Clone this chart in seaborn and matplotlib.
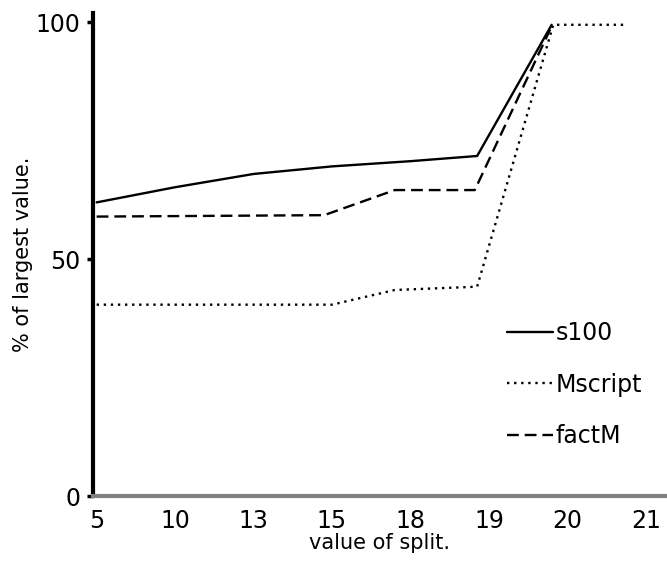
import matplotlib
matplotlib.use("Agg")
import matplotlib.pyplot as plt
import seaborn as sns
import pandas as pd

# tick categories (evenly spaced split values)
split_labels = ["5", "10", "13", "15", "18", "19", "20", "21"]

# series sampled along the split axis (x in tick-index units)
s100_x = [0.0, 1.0, 2.0, 3.0, 4.0, 4.85, 5.8]
s100_y = [62.0, 65.2, 68.0, 69.6, 70.7, 71.8, 99.5]

mscript_x = [0.0, 3.0, 3.8, 4.85, 5.82, 6.77]
mscript_y = [40.4, 40.4, 43.5, 44.2, 99.5, 99.5]

factm_x = [0.0, 2.9, 3.8, 4.82, 5.78]
factm_y = [59.0, 59.3, 64.6, 64.6, 98.5]

series_names = ["s100", "Mscript", "factM"]

df = pd.concat([
    pd.DataFrame({"x": s100_x, "y": s100_y, "series": series_names[0]}),
    pd.DataFrame({"x": mscript_x, "y": mscript_y, "series": series_names[1]}),
    pd.DataFrame({"x": factm_x, "y": factm_y, "series": series_names[2]}),
], ignore_index=True)

sns.set_style("white")
plt.rcParams["font.family"] = ["DejaVu Sans"]
plt.rcParams["text.color"] = "black"
plt.rcParams["axes.labelcolor"] = "black"
plt.rcParams["xtick.color"] = "black"
plt.rcParams["ytick.color"] = "black"

fig = plt.figure(figsize=(6.67, 5.63), dpi=100)
ax = fig.add_axes([0.139, 0.119, 0.861, 0.858])

dash_map = {"s100": "", "Mscript": (1.0, 2.0), "factM": (5.0, 2.5)}
sns.lineplot(data=df, x="x", y="y", hue="series", style="series",
             dashes=dash_map, palette=["black"] * 3, estimator=None,
             sort=False, linewidth=1.7, ax=ax, legend=True)

ax.set_xlim(-0.05, 7.27)
ax.set_ylim(0, 102)
ax.set_xticks(range(len(split_labels)))
ax.set_xticklabels(split_labels)
ax.set_yticks([0, 50, 100])
ax.set_yticklabels(["0", "50", "100"])

for side in ["top", "right"]:
    ax.spines[side].set_visible(False)
ax.spines["left"].set_linewidth(3)
ax.spines["left"].set_color("black")
ax.spines["bottom"].set_linewidth(3)
ax.spines["bottom"].set_color("#808080")

ax.tick_params(axis="y", length=4, width=2.5, color="black", pad=5, labelsize=17, left=True)
ax.tick_params(axis="x", length=0, pad=9, labelsize=17)

ax.set_xlabel("value of split.", fontsize=15, labelpad=0)
ax.set_ylabel("% of largest value.", fontsize=15, labelpad=2)

leg = ax.legend(title=None, frameon=False, fontsize=17,
                loc="upper left", bbox_to_anchor=(0.685, 0.406),
                handlelength=1.95, handletextpad=0.1, labelspacing=1.16)
for line in leg.get_lines():
    line.set_linewidth(1.7)
for t in leg.get_texts():
    t.set_color("black")

fig.savefig("out.png", dpi=100)
